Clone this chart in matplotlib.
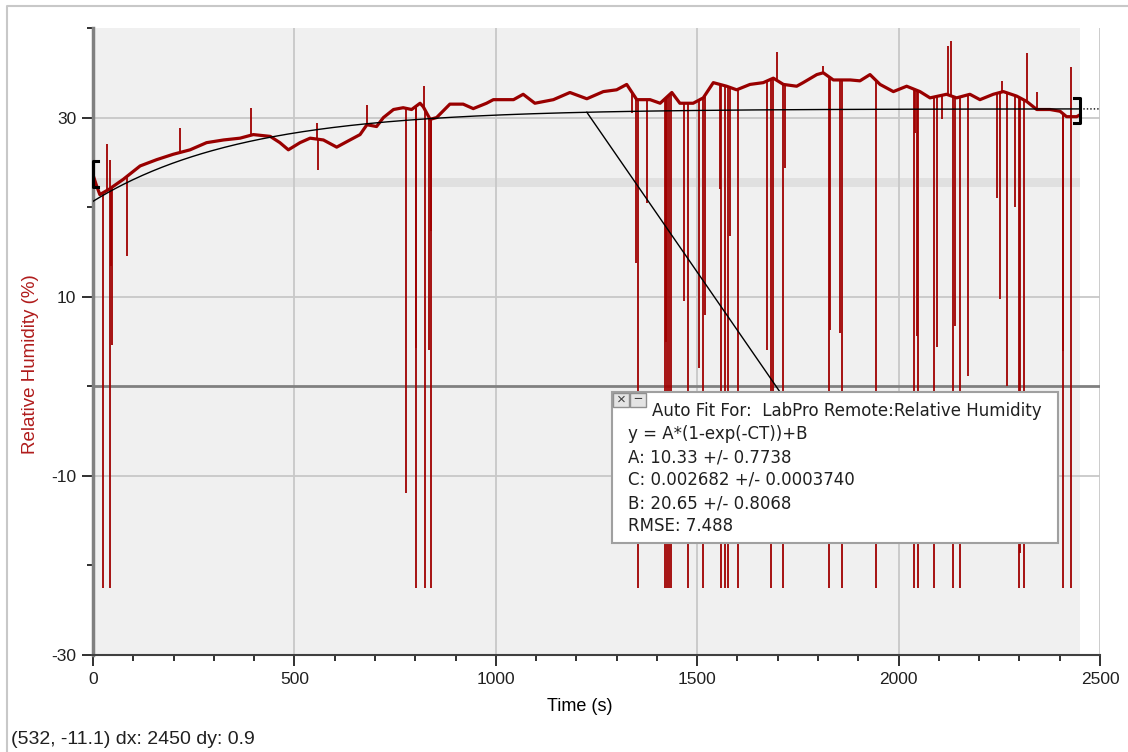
import numpy as np
import matplotlib
import matplotlib.pyplot as plt
from matplotlib.patches import Rectangle
from matplotlib.lines import Line2D

matplotlib.use('agg')
plt.rcParams['font.family'] = ['Liberation Sans', 'DejaVu Sans']
plt.rcParams['axes.unicode_minus'] = False

# humidity trace (time s, %)
base_t = [0, 8, 17, 40, 75, 117, 158, 199, 241, 282, 324, 365, 398, 440, 464,
          485, 514, 539, 572, 605, 638, 663, 680, 704, 721, 746, 770, 791, 812,
          820, 837, 853, 886, 919, 944, 977, 994, 1044, 1068, 1097, 1143, 1184,
          1226, 1267, 1300, 1325, 1350, 1383, 1408, 1437, 1457, 1490, 1515, 1540,
          1573, 1598, 1631, 1664, 1689, 1714, 1747, 1763, 1797, 1813, 1838, 1880,
          1904, 1929, 1954, 1987, 2020, 2053, 2078, 2119, 2144, 2177, 2202, 2235,
          2260, 2293, 2318, 2343, 2376, 2401, 2417, 2442, 2450]
base_rh = [23.6, 22.5, 21.4, 22.0, 23.1, 24.6, 25.3, 25.9, 26.4, 27.2, 27.5,
           27.7, 28.1, 27.9, 27.2, 26.4, 27.2, 27.7, 27.5, 26.7, 27.5, 28.1, 29.2,
           29.0, 30.0, 30.9, 31.1, 30.9, 31.6, 31.2, 29.8, 30.0, 31.5, 31.5, 31.0,
           31.6, 32.0, 32.0, 32.6, 31.6, 32.0, 32.8, 32.1, 32.9, 33.1, 33.7, 32.0,
           32.0, 31.6, 32.8, 31.6, 31.6, 32.2, 33.9, 33.5, 33.1, 33.7, 33.9, 34.4,
           33.7, 33.5, 33.9, 34.8, 35.0, 34.2, 34.2, 34.1, 34.8, 33.7, 32.9, 33.5,
           32.9, 32.2, 32.6, 32.2, 32.6, 32.0, 32.6, 32.9, 32.4, 31.8, 30.9, 30.9,
           30.7, 30.1, 30.1, 30.3]

# sensor dropouts / glitches: (time, tip value)
spike_t = [26, 41, 801, 824, 838, 1352, 1420, 1425, 1430, 1435, 1478, 1515,
           1560, 1568, 1577, 1602, 1682, 1712, 1828, 1859, 1944, 2037, 2047, 2089,
           2136, 2152, 2299, 2312, 2408, 2427,
           45, 47, 84, 558, 776, 803, 833, 840, 1337, 1349, 1375, 1422, 1466, 1505,
           1520, 1557, 1582, 1673, 1689, 1718, 1830, 1855, 2041, 2045, 2095, 2108,
           2140, 2173, 2244, 2252, 2268, 2289, 2301, 2407,
           34, 43, 216, 392, 555, 680, 822, 1697, 1813, 2122, 2131, 2256, 2320,
           2343, 2428]
spike_rh = [-22.5] * 30 + \
           [13.4, 4.6, 14.5, 24.2, -11.9, 4.3, 4.1, 17.3, 30.5, 13.8, 20.5, 4.9,
            9.5, 2.0, 8.0, 22.0, 16.8, 4.0, -2.0, 24.4, 6.3, 6.0, 28.3, 5.6, 4.4,
            29.8, 6.7, 1.1, 21.0, 9.7, 0.0, 20.0, -18.6, 3.9] + \
           [27.0, 25.3, 28.8, 31.1, 29.4, 31.4, 33.5, 37.3, 35.8, 38.0, 38.5,
            34.1, 37.2, 32.9, 35.7]

# auto fit y = A*(1-exp(-C*t))+B
A, C, B = 10.33, 0.002682, 20.65
fit_text = ["Auto Fit For:  LabPro Remote:Relative Humidity",
            "y = A*(1-exp(-CT))+B",
            "A: 10.33 +/- 0.7738",
            "C: 0.002682 +/- 0.0003740",
            "B: 20.65 +/- 0.8068",
            "RMSE: 7.488"]
status = "(532, -11.1) dx: 2450 dy: 0.9"

red = '#990000'
grid_c = '#c8c8c8'
narrow = ['Liberation Sans Narrow', 'Liberation Sans', 'DejaVu Sans']

fig = plt.figure(figsize=(11.28, 7.52), dpi=100)
W, H = 1128, 752
ax = fig.add_axes([93 / W, 1 - 655 / H, (1100 - 93) / W, (655 - 28) / H])
ax.set_xlim(0, 2500)
ax.set_ylim(-30, 40)
ax.set_facecolor('white')

# data region background and the selection band
ax.add_patch(Rectangle((0, -30), 2450, 70, color='#f0f0f0', zorder=0, lw=0))
ax.add_patch(Rectangle((0, 22.3), 2450, 1.0, color='#e0e0e0', zorder=0.5, lw=0))

for x in [500, 1000, 1500, 2000, 2500]:
    ax.axvline(x, color=grid_c, lw=1.3, zorder=1)
for y in [-10, 10, 30]:
    ax.axhline(y, color=grid_c, lw=1.3, zorder=1)
ax.axhline(0, color='#808080', lw=2, zorder=1)

# the trace
bt = np.array(base_t)
br = np.array(base_rh)
st = np.array(spike_t)
sr = np.array(spike_rh)
ax.vlines(st, np.interp(st, bt, br), sr, color='#a00000', lw=1.3, zorder=2)
ax.plot(bt, br, color=red, lw=2.3, zorder=3)

# fit curve
tt = np.linspace(0, 2450, 400)
ax.plot(tt, A * (1 - np.exp(-C * tt)) + B, color='black', lw=1, zorder=4)
te = np.linspace(2450, 2500, 10)
ax.plot(te, A * (1 - np.exp(-C * te)) + B, color='black', lw=1, ls=(0, (1, 1.5)), zorder=4)

# selection brackets
ax.plot([12, 0, 0, 12], [25.1, 25.1, 22.3, 22.3], color='black', lw=2.2, zorder=5,
        clip_on=False)
ax.plot([2436, 2450, 2450, 2436], [32.2, 32.2, 29.4, 29.4], color='black', lw=2.2,
        zorder=5, clip_on=False)

# leader from curve to fit box
t0 = 1226
ax.plot([t0, 1705], [A * (1 - np.exp(-C * t0)) + B, -0.6], color='black', lw=1, zorder=5)

ax.spines['top'].set_visible(False)
ax.spines['right'].set_visible(False)
ax.spines['left'].set_color('#808080')
ax.spines['left'].set_linewidth(2.5)
ax.spines['bottom'].set_color('#404040')
ax.spines['bottom'].set_linewidth(1.5)

ax.set_xticks([0, 500, 1000, 1500, 2000, 2500])
ax.set_xticks(np.arange(0, 2501, 100), minor=True)
ax.set_yticks([-30, -10, 10, 30])
ax.set_yticks([-20, 0, 20, 40], minor=True)
ax.tick_params(which='major', length=8, width=1.3, color='#202020', labelsize=12.5,
               labelcolor='#202020', pad=4)
ax.tick_params(which='minor', length=4, width=1.3, color='#202020')
for lab in ax.get_xticklabels() + ax.get_yticklabels():
    lab.set_family(narrow)

ax.set_xlabel('Time (s)', fontsize=13, labelpad=8)
ax.xaxis.label.set_x((580 - 93) / 1007)
ax.set_ylabel('Relative Humidity (%)', fontsize=13.5, color='#b01c1c', labelpad=9)
ax.yaxis.label.set_y((655 - 364) / 627)

# fit box on top of everything
fig.add_artist(Rectangle((612 / W, 1 - 543 / H), 446 / W, 151 / H,
                         transform=fig.transFigure, facecolor='white',
                         edgecolor='#a0a0a0', lw=1.5, zorder=10))
for x0 in [613, 630]:
    fig.add_artist(Rectangle((x0 / W, 1 - 407 / H), 16 / W, 14 / H,
                             transform=fig.transFigure, facecolor='#e4e4e4',
                             edgecolor='#909090', lw=1, zorder=11))
fig.text(621 / W, 1 - 400 / H, '\u00d7', fontsize=11, ha='center', va='center',
         color='#404040', zorder=12)
fig.text(638 / W, 1 - 399 / H, '\u2212', fontsize=11, ha='center', va='center',
         color='#404040', zorder=12)
ys = [411, 434, 457, 479, 503, 526]
for i, s in enumerate(fit_text):
    x0 = 652 if i == 0 else 628
    fig.text(x0 / W, 1 - ys[i] / H, s, fontsize=12, ha='left', va='center',
             color='#202020', zorder=12, family=['DejaVu Sans'])

fig.text(11 / W, 1 - 740 / H, status, fontsize=14, ha='left', va='center',
         color='#202020', family=narrow)

# window frame
fig.add_artist(Line2D([7 / W, 7 / W, 1], [0, 1 - 6 / H, 1 - 6 / H],
                      transform=fig.transFigure, color='#c8c8c8', lw=1.5))

fig.savefig('out.png', dpi=100)
